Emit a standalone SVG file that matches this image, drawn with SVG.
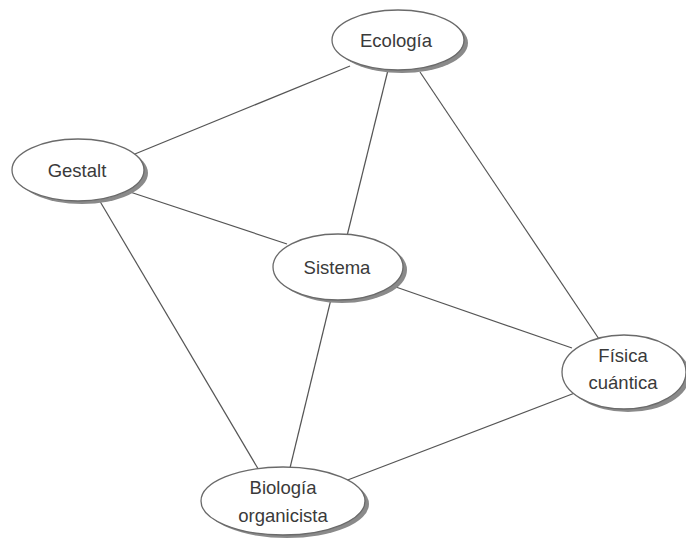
<svg xmlns="http://www.w3.org/2000/svg" width="686" height="539" viewBox="0 0 686 539">
  <style>
    .edge { stroke: #555; stroke-width: 1.2; fill: none; }
    .shadow { fill: #8a8a8a; }
    .body { fill: #ffffff; stroke: #6a6a6a; stroke-width: 1.3; }
    .label { font-family: "Liberation Sans", Arial, sans-serif; font-size: 18.5px; fill: #3a3a3a; text-anchor: middle; }
  </style>
  <rect width="686" height="539" fill="#ffffff"/>

  <!-- connectors -->
  <g id="connectors">
    <line class="edge" x1="350" y1="66" x2="130" y2="156"/>
    <line class="edge" x1="389" y1="66" x2="347" y2="236"/>
    <line class="edge" x1="420" y1="72" x2="603" y2="345"/>
    <line class="edge" x1="130" y1="192" x2="287" y2="244"/>
    <line class="edge" x1="98" y1="198" x2="260" y2="472"/>
    <line class="edge" x1="332" y1="295" x2="289" y2="472"/>
    <line class="edge" x1="393" y1="286" x2="572" y2="348"/>
    <line class="edge" x1="580" y1="391" x2="345" y2="481"/>
  </g>

  <!-- nodes -->
  <g id="ecologia">
    <ellipse class="shadow" cx="402" cy="43" rx="66" ry="30"/>
    <ellipse class="body" cx="398" cy="40" rx="66" ry="30"/>
    <text class="label" x="396" y="47">Ecología</text>
  </g>
  <g id="gestalt">
    <ellipse class="shadow" cx="82" cy="173" rx="66" ry="31"/>
    <ellipse class="body" cx="78" cy="170" rx="66" ry="31"/>
    <text class="label" x="77" y="177">Gestalt</text>
  </g>
  <g id="sistema">
    <ellipse class="shadow" cx="342" cy="270" rx="65" ry="33"/>
    <ellipse class="body" cx="338" cy="267" rx="65" ry="33"/>
    <text class="label" x="337" y="274">Sistema</text>
  </g>
  <g id="fisica">
    <ellipse class="shadow" cx="628" cy="375" rx="62" ry="37"/>
    <ellipse class="body" cx="624" cy="372" rx="62" ry="37"/>
    <text class="label" x="623" y="362">Física</text>
    <text class="label" x="623" y="389">cuántica</text>
  </g>
  <g id="biologia">
    <ellipse class="shadow" cx="287" cy="504" rx="82" ry="34"/>
    <ellipse class="body" cx="283" cy="501" rx="82" ry="34"/>
    <text class="label" x="283" y="494">Biología</text>
    <text class="label" x="283" y="522">organicista</text>
  </g>
</svg>
